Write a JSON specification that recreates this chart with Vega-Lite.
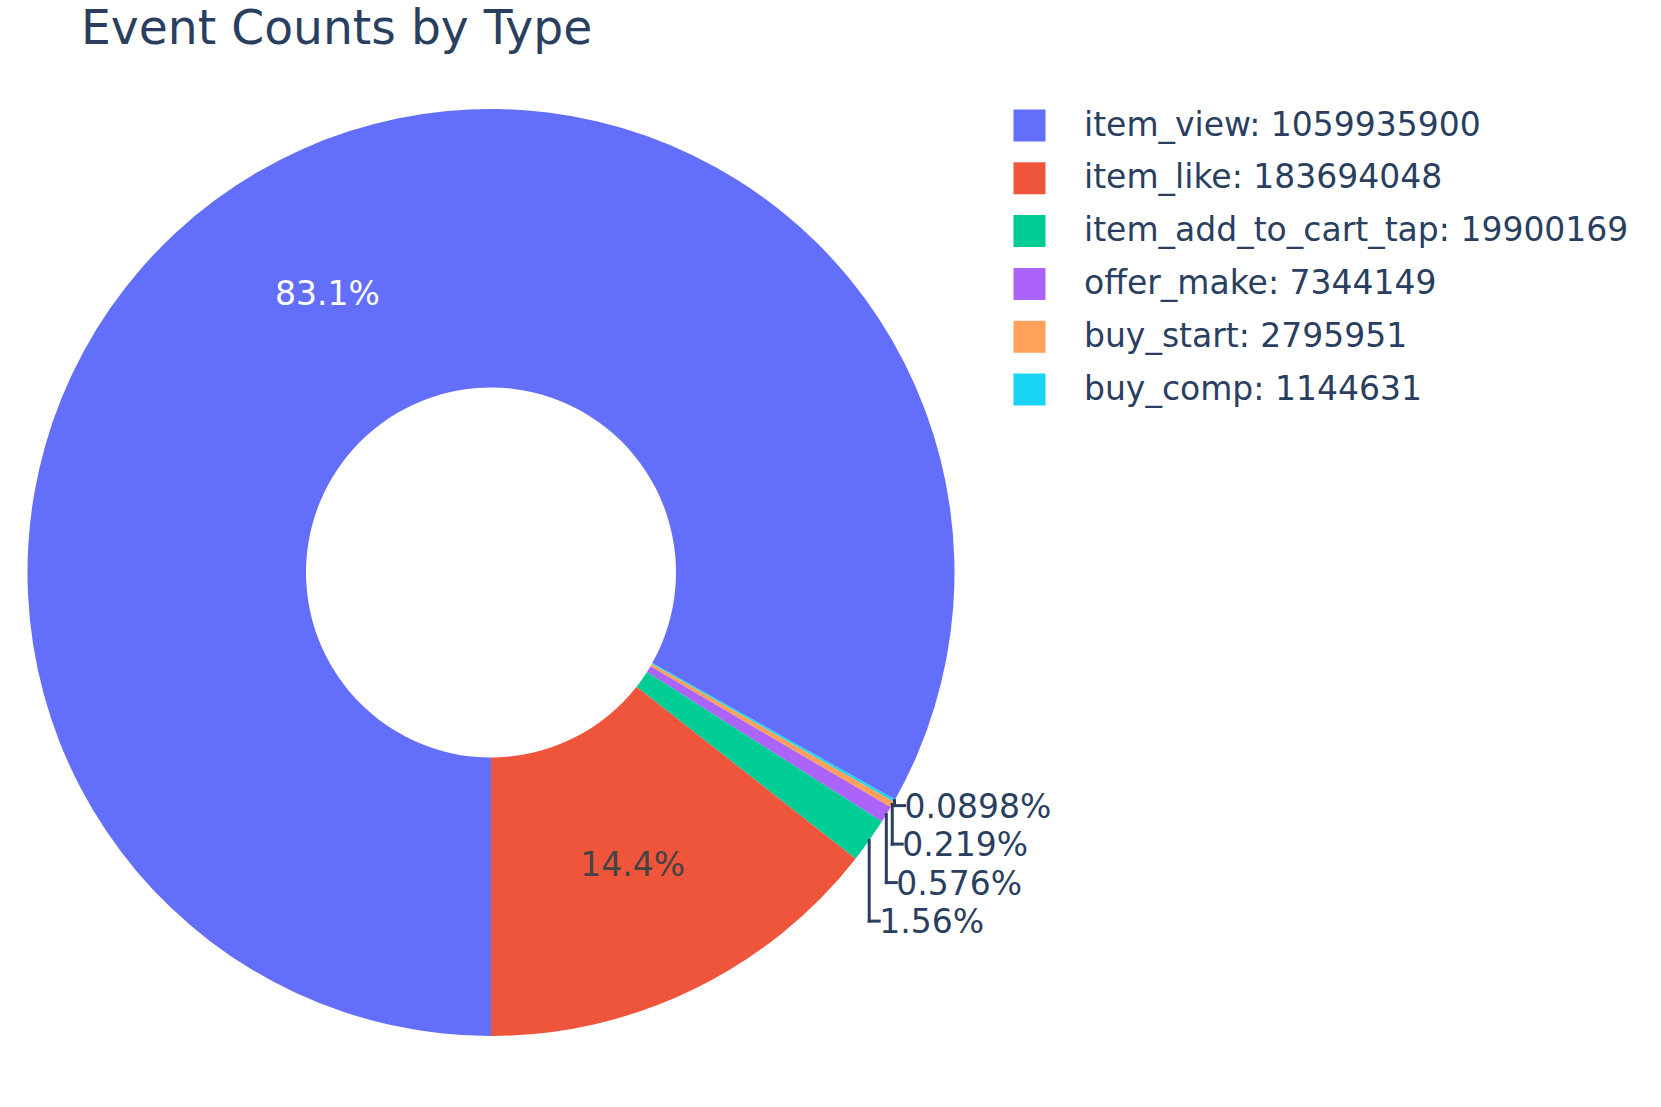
{
  "$schema": "https://vega.github.io/schema/vega-lite/v6.json",
  "width": 982,
  "height": 1025,
  "autosize": {"type": "none"},
  "padding": {"left": 0, "top": 60, "right": 679, "bottom": 22},
  "background": "white",
  "title": {"text": "Event Counts by Type", "anchor": "start", "frame": "group", "fontSize": 47.2, "font": "DejaVu Sans", "fontWeight": "normal", "color": "#2a3f5f", "dx": 81, "dy": 49, "baseline": "alphabetic", "offset": 18},
  "config": {
    "view": {"stroke": null},
    "legend": {"orient": "none", "legendX": 1013, "legendY": 49, "symbolType": "square", "symbolSize": 1024, "symbolStrokeWidth": 0, "symbolOpacity": 1, "labelFontSize": 33, "labelFont": "DejaVu Sans", "labelColor": "#2a3f5f", "labelOffset": 38, "rowPadding": 18.8, "labelLimit": 0, "padding": 0}
  },
  "data": {"values": [
    {"event": "item_view", "count": 1059935900, "order": 1},
    {"event": "buy_comp", "count": 1144631, "order": 2},
    {"event": "buy_start", "count": 2795951, "order": 3},
    {"event": "offer_make", "count": 7344149, "order": 4},
    {"event": "item_add_to_cart_tap", "count": 19900169, "order": 5},
    {"event": "item_like", "count": 183694048, "order": 6}
  ]},
  "transform": [
    {"joinaggregate": [{"op": "sum", "field": "count", "as": "total"}]},
    {"window": [{"op": "sum", "field": "count", "as": "cum"}], "sort": [{"field": "order"}], "frame": [null, 0]},
    {"calculate": "datum.count / datum.total", "as": "pct"},
    {"calculate": "PI + 2 * PI * (datum.cum - datum.count / 2) / datum.total", "as": "mid"},
    {"calculate": "format(datum.pct, '.3p')", "as": "pct_label"},
    {"calculate": "datum.event + ': ' + datum.count", "as": "legend"}
  ],
  "layer": [
    {
      "mark": {"type": "arc", "innerRadius": 185, "outerRadius": 463.5, "stroke": null},
      "encoding": {
        "theta": {"field": "count", "type": "quantitative", "stack": true, "scale": {"range": [3.141592653589793, 9.42477796076938]}},
        "order": {"field": "order", "type": "quantitative"},
        "color": {"field": "legend", "type": "nominal",
          "scale": {"domain": ["item_view: 1059935900", "item_like: 183694048", "item_add_to_cart_tap: 19900169", "offer_make: 7344149", "buy_start: 2795951", "buy_comp: 1144631"],
                    "range": ["#636efa", "#EF553B", "#00cc96", "#ab63fa", "#FFA15A", "#19d3f3"]},
          "legend": {"title": null}}
      }
    },
    {
      "transform": [
        {"filter": "datum.pct > 0.1"},
        {"calculate": "324 * sin(datum.mid)", "as": "ix"},
        {"calculate": "324 * cos(datum.mid)", "as": "iy"}
      ],
      "mark": {"type": "text", "fontSize": 33, "font": "DejaVu Sans", "align": "center", "baseline": "middle", "dy": 2.5},
      "encoding": {
        "x": {"field": "ix", "type": "quantitative", "scale": {"domain": [-491, 491], "nice": false, "zero": false}, "axis": null},
        "y": {"field": "iy", "type": "quantitative", "scale": {"domain": [-512.5, 512.5], "nice": false, "zero": false}, "axis": null},
        "text": {"field": "pct_label"},
        "color": {"condition": {"test": "datum.event == 'item_view'", "value": "#ffffff"}, "value": "#444444"}
      }
    },
    {
      "transform": [
        {"filter": "datum.pct < 0.1"},
        {"calculate": "463.5 * sin(datum.mid)", "as": "ex"},
        {"calculate": "463.5 * cos(datum.mid)", "as": "ey"},
        {"calculate": "datum.ex + 10", "as": "lx"},
        {"joinaggregate": [{"op": "max", "field": "ey", "as": "top"}]},
        {"window": [{"op": "rank", "as": "rank"}], "sort": [{"field": "order"}]},
        {"calculate": "datum.top - 5 - (datum.rank - 1) * 38.5", "as": "ly"}
      ],
      "layer": [
        {
          "mark": {"type": "rule", "color": "#2a3f5f", "strokeWidth": 3, "strokeCap": "square"},
          "encoding": {
            "x": {"field": "ex", "type": "quantitative", "scale": {"domain": [-491, 491], "nice": false, "zero": false}, "axis": null},
            "y": {"field": "ey", "type": "quantitative", "scale": {"domain": [-512.5, 512.5], "nice": false, "zero": false}, "axis": null},
            "y2": {"field": "ly"}
          }
        },
        {
          "mark": {"type": "rule", "color": "#2a3f5f", "strokeWidth": 3, "strokeCap": "square"},
          "encoding": {
            "x": {"field": "ex", "type": "quantitative", "scale": {"domain": [-491, 491], "nice": false, "zero": false}, "axis": null},
            "x2": {"field": "lx"},
            "y": {"field": "ly", "type": "quantitative", "scale": {"domain": [-512.5, 512.5], "nice": false, "zero": false}, "axis": null}
          }
        },
        {
          "mark": {"type": "text", "fontSize": 33, "font": "DejaVu Sans", "align": "left", "baseline": "middle", "dy": 2, "color": "#2a3f5f"},
          "encoding": {
            "x": {"field": "lx", "type": "quantitative", "scale": {"domain": [-491, 491], "nice": false, "zero": false}, "axis": null},
            "y": {"field": "ly", "type": "quantitative", "scale": {"domain": [-512.5, 512.5], "nice": false, "zero": false}, "axis": null},
            "text": {"field": "pct_label"}
          }
        }
      ]
    }
  ]
}
